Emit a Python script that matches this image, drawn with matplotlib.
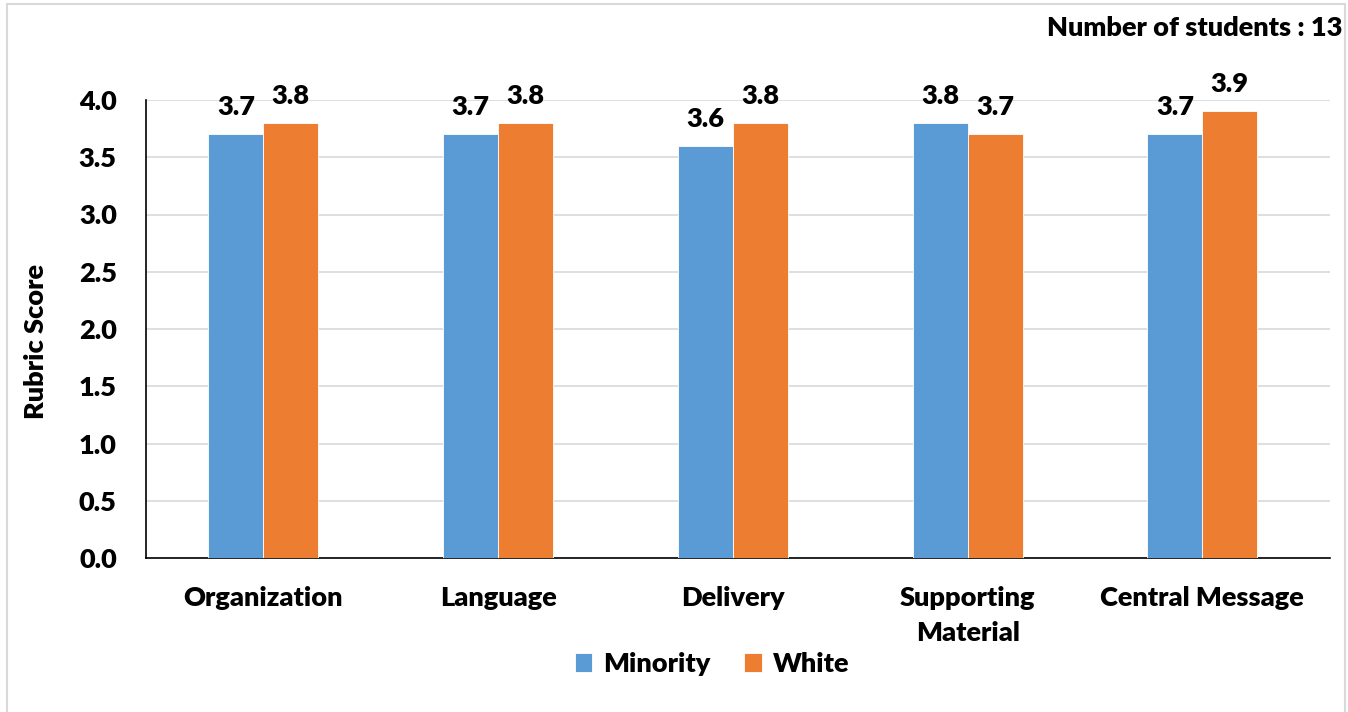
import matplotlib
matplotlib.use("Agg")
import matplotlib.pyplot as plt
from matplotlib.patches import Rectangle
import numpy as np

categories = ["Organization", "Language", "Delivery", "Supporting\nMaterial", "Central Message"]
minority = [3.7, 3.7, 3.6, 3.8, 3.7]
white = [3.8, 3.8, 3.8, 3.7, 3.9]
series_names = ["Minority", "White"]
yticks = [0.0, 0.5, 1.0, 1.5, 2.0, 2.5, 3.0, 3.5, 4.0]

BLUE = "#5B9BD5"
ORANGE = "#ED7D31"
FS = 19.5

plt.rcParams["font.family"] = ["Lato", "DejaVu Sans"]
plt.rcParams["font.weight"] = "heavy"

fig = plt.figure(figsize=(13.48, 7.12), dpi=100)
ax = fig.add_axes([146 / 1348, 1 - 558 / 712, (1330 - 146) / 1348, (558 - 100) / 712])

x = np.arange(len(categories))
w = 0.234
b1 = ax.bar(x - w / 2, minority, w, color=BLUE, edgecolor="white", linewidth=0.6,
            label=series_names[0], zorder=3)
b2 = ax.bar(x + w / 2, white, w, color=ORANGE, edgecolor="white", linewidth=0.6,
            label=series_names[1], zorder=3)

for bars, vals in ((b1, minority), (b2, white)):
    for rect, v in zip(bars, vals):
        ax.annotate(f"{v:.1f}", (rect.get_x() + rect.get_width() / 2, v),
                    xytext=(0, 11), textcoords="offset points",
                    ha="center", va="bottom", fontsize=FS, fontweight="heavy")

ax.set_xlim(-0.5, -0.5 + 1184 / 234.75)
ax.set_ylim(0, 4.0)
ax.set_yticks(yticks)
ax.set_yticklabels([f"{t:.1f}" for t in yticks], fontsize=FS, fontweight="heavy")
ax.set_xticks(x)
ax.set_xticklabels(categories, fontsize=FS, fontweight="heavy", linespacing=1.52)
ax.tick_params(axis="x", length=0, pad=20.5)
ax.tick_params(axis="y", length=0, pad=21)

ax.yaxis.grid(True, color="#D9D9D9", linewidth=1.2, zorder=0)
ax.set_axisbelow(True)
for side in ("top", "right"):
    ax.spines[side].set_visible(False)
for side in ("left", "bottom"):
    ax.spines[side].set_color("black")
    ax.spines[side].set_linewidth(1.2)

ax.set_ylabel("Rubric Score", fontsize=FS, fontweight="heavy")
ax.yaxis.set_label_coords(-0.083, 0.472)

fig.text(1342 / 1348, 1 - 28 / 712, "Number of students : 13", ha="right", va="center",
         fontsize=FS, fontweight="heavy")

fig.legend(handles=[b1, b2], labels=series_names, loc="center",
           bbox_to_anchor=(712 / 1348, 1 - 664 / 712), ncol=2, frameon=False,
           handlelength=0.65, handleheight=0.65, columnspacing=1.25,
           handletextpad=0.4, prop={"weight": "heavy", "size": FS})

fig.patches.append(Rectangle((7 / 1348, -0.05), 1338 / 1348, 1.05 - 4 / 712,
                             transform=fig.transFigure, fill=False,
                             edgecolor="#D9D9D9", linewidth=1.5))

fig.savefig("out.png", dpi=100, facecolor="white")
